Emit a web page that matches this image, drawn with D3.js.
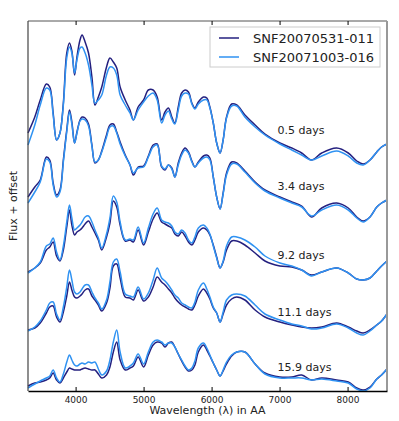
<!DOCTYPE html>
<html>
<head>
<meta charset="utf-8">
<script src="https://cdn.jsdelivr.net/npm/d3@7"></script>
<style>
  body { margin: 0; background: #fff; }
  text { font-family: "DejaVu Sans", sans-serif; fill: #222; }
</style>
</head>
<body>
<svg id="chart" width="399" height="421"></svg>
<script>
const width = 399;
const height = 421;
const margin = { top: 21, right: 12, bottom: 30, left: 28 };

// wavelength grid (Angstrom)
const wavelength = [3300, 3400, 3480, 3570, 3620, 3670, 3720, 3770, 3820, 3870,
    3910, 3945, 3985, 4020, 4065, 4095, 4140, 4190, 4240, 4285,
    4335, 4385, 4455, 4505, 4555, 4605, 4655, 4730, 4800, 4850,
    4920, 5000, 5070, 5140, 5200, 5265, 5315, 5365, 5415, 5460,
    5510, 5560, 5610, 5660, 5710, 5755, 5805, 5880, 5930, 5975,
    6025, 6075, 6125, 6170, 6220, 6295, 6370, 6490, 6640, 6785,
    7005, 7180, 7325, 7470, 7620, 7840, 8010, 8135, 8230, 8330,
    8430, 8500, 8580];

const names = ["SNF20070531-011", "SNF20071003-016"];
const epochs = ["0.5 days", "3.4 days", "9.2 days", "11.1 days", "15.9 days"];
const offsets = [22, 16, 10, 5, 0];
const labelFlux = [3.7, 4.1, 3.2, 2.5, 2.0];
const xTicks = [4000, 5000, 6000, 7000, 8000];

// SNF20070531-011
const snA_05 = [3.8, 5.4, 7.1, 8.7, 8.4, 5.8, 3.1, 3.8, 6.8, 11.8,
    12.8, 12.0, 9.6, 11.4, 13.1, 13.6, 12.9, 11.8, 9.4, 6.6,
    7.4, 8.4, 10.4, 11.3, 10.9, 10.3, 8.4, 7.1, 6.1, 5.1,
    6.4, 7.1, 8.1, 8.1, 7.4, 5.1, 5.9, 6.3, 5.4, 4.8,
    6.4, 7.8, 8.1, 7.9, 6.8, 6.3, 6.9, 7.4, 7.3, 6.4,
    4.8, 2.8, 1.8, 3.1, 5.4, 6.7, 6.6, 5.6, 4.6, 3.7,
    2.8, 2.3, 1.8, 1.1, 1.8, 2.3, 1.8, 1.0, 0.7, 1.1,
    1.9, 2.4, 2.7];
const snA_34 = [3.4, 4.4, 5.1, 7.4, 7.1, 4.8, 3.6, 4.1, 7.1, 10.1,
    12.1, 10.9, 8.8, 9.9, 11.1, 11.4, 11.3, 10.7, 8.6, 6.8,
    7.1, 8.0, 9.6, 10.6, 10.7, 9.9, 8.9, 7.6, 6.6, 5.6,
    6.4, 6.5, 7.5, 8.6, 8.7, 6.4, 6.1, 6.6, 6.3, 5.4,
    6.8, 7.8, 8.3, 7.9, 7.0, 6.4, 6.9, 7.5, 7.6, 7.3,
    5.4, 3.4, 2.2, 3.8, 5.8, 6.9, 6.8, 6.0, 4.9, 4.1,
    3.4, 2.9, 2.5, 1.4, 2.3, 2.8, 2.3, 1.4, 1.0, 1.4,
    2.4, 2.8, 3.1];
const snA_92 = [1.9, 2.3, 2.8, 4.1, 4.4, 4.9, 3.5, 3.0, 4.1, 6.4,
    8.1, 6.6, 5.6, 5.9, 6.1, 6.3, 6.7, 7.0, 6.4, 5.8,
    5.1, 4.1, 5.4, 6.8, 9.0, 8.4, 6.6, 5.0, 5.1, 4.9,
    6.1, 4.6, 5.9, 7.2, 7.8, 6.9, 6.7, 6.5, 6.3, 5.7,
    5.5, 5.9, 5.5, 4.9, 4.6, 5.1, 5.9, 6.3, 6.1, 5.6,
    4.6, 3.4, 2.3, 2.9, 4.1, 5.0, 5.0, 4.6, 3.8, 3.0,
    2.5, 2.4, 2.1, 1.6, 1.9, 2.3, 1.8, 1.2, 1.1, 1.3,
    2.0, 2.5, 3.0];
const snA_111 = [1.1, 1.3, 1.8, 2.8, 3.4, 3.5, 2.4, 1.9, 2.9, 4.5,
    5.9, 5.1, 4.4, 4.3, 4.5, 4.7, 5.1, 5.2, 4.5, 4.1,
    3.6, 3.0, 3.8, 5.3, 7.5, 7.7, 6.3, 4.4, 4.3, 4.1,
    5.1, 4.0, 4.4, 5.4, 6.4, 5.9, 5.6, 5.2, 4.8, 4.3,
    3.9, 3.6, 3.4, 3.2, 3.1, 3.6, 4.5, 5.2, 4.8, 4.2,
    3.3, 2.8, 1.9, 2.7, 3.6, 4.2, 4.4, 4.1, 3.1, 2.4,
    1.9, 1.6, 1.4, 1.3, 1.4, 1.8, 1.4, 1.0, 0.8, 1.1,
    1.6, 2.0, 2.7];
const snA_159 = [0.5, 0.8, 0.9, 1.1, 1.3, 1.8, 1.1, 0.8, 1.3, 1.9,
    2.3, 2.2, 2.1, 2.1, 2.1, 2.2, 2.3, 2.2, 2.1, 2.1,
    1.7, 1.3, 1.6, 2.4, 3.9, 4.9, 3.1, 2.1, 2.3, 2.5,
    3.4, 2.4, 3.6, 4.6, 4.9, 4.8, 4.4, 4.8, 4.9, 4.4,
    3.7, 3.0, 2.4, 2.0, 2.1, 2.6, 3.9, 4.6, 4.1, 3.5,
    2.8, 2.1, 1.5, 2.0, 2.7, 3.5, 3.9, 3.9, 2.7, 1.8,
    1.4, 1.4, 1.6, 1.1, 1.3, 1.1, 0.9, 0.3, 0.1, 0.4,
    1.2, 1.6, 2.2];

// SNF20071003-016
const snB_05 = [2.6, 4.6, 6.6, 8.3, 8.1, 5.6, 3.1, 3.8, 6.6, 11.3,
    12.4, 11.8, 9.8, 11.1, 12.3, 12.4, 11.8, 10.6, 8.6, 6.8,
    7.1, 7.6, 9.6, 10.4, 10.3, 9.6, 7.6, 6.6, 5.8, 5.1,
    6.1, 6.9, 7.5, 7.8, 7.1, 4.8, 5.6, 6.0, 5.2, 4.7,
    6.1, 7.5, 7.8, 7.7, 6.7, 6.2, 6.7, 7.1, 7.1, 6.3,
    4.8, 2.8, 1.8, 3.1, 5.3, 6.5, 6.5, 5.4, 4.4, 3.6,
    2.7, 2.1, 1.6, 1.1, 1.5, 2.0, 1.5, 0.8, 0.6, 1.1,
    1.9, 2.4, 2.7];
const snB_34 = [2.8, 3.9, 4.9, 7.2, 6.9, 4.6, 3.4, 3.9, 6.9, 9.9,
    11.9, 10.7, 8.8, 9.8, 11.0, 11.2, 11.1, 10.5, 8.5, 6.9,
    7.1, 7.9, 9.4, 10.4, 10.5, 9.8, 8.7, 7.5, 6.6, 5.8,
    6.3, 6.4, 7.4, 8.4, 8.6, 6.5, 6.2, 6.6, 6.2, 5.4,
    6.6, 7.6, 8.1, 7.8, 6.9, 6.4, 6.8, 7.3, 7.4, 7.1,
    5.4, 3.4, 2.2, 3.7, 5.6, 6.7, 6.7, 5.9, 4.8, 4.0,
    3.3, 2.8, 2.4, 1.5, 2.1, 2.6, 2.1, 1.3, 0.9, 1.4,
    2.4, 2.8, 3.1];
const snB_92 = [1.8, 2.3, 2.9, 4.5, 4.7, 5.3, 3.9, 3.1, 4.5, 6.9,
    8.6, 7.3, 6.1, 6.3, 6.6, 6.9, 7.4, 7.5, 6.9, 6.1,
    5.3, 4.3, 5.7, 7.3, 9.5, 8.9, 6.9, 5.1, 5.2, 5.1,
    6.4, 4.8, 6.3, 7.7, 8.3, 7.1, 6.9, 6.8, 6.5, 5.9,
    5.7, 6.1, 5.8, 5.1, 4.8, 5.4, 6.3, 6.6, 6.3, 5.7,
    4.5, 3.3, 2.3, 3.0, 4.5, 5.4, 5.4, 5.1, 4.4, 3.5,
    2.8, 2.5, 2.1, 1.5, 1.9, 2.3, 1.8, 1.2, 1.1, 1.3,
    2.0, 2.5, 3.0];
const snB_111 = [1.0, 1.4, 2.0, 3.1, 3.8, 3.9, 2.7, 2.1, 3.4, 5.4,
    7.1, 6.1, 4.9, 4.7, 4.9, 5.2, 5.6, 5.6, 4.9, 4.3,
    3.8, 3.2, 4.1, 5.9, 7.9, 8.2, 6.9, 4.7, 4.5, 4.4,
    5.4, 4.2, 4.8, 6.1, 7.3, 6.3, 6.0, 5.6, 5.1, 4.6,
    4.3, 3.8, 3.6, 3.4, 3.3, 3.9, 5.1, 5.8, 5.2, 4.4,
    3.4, 2.8, 1.9, 2.9, 4.1, 4.6, 4.7, 4.5, 3.6, 2.7,
    2.1, 1.7, 1.5, 1.2, 1.3, 1.7, 1.3, 0.8, 0.6, 1.0,
    1.6, 2.0, 2.7];
const snB_159 = [0.3, 0.7, 1.0, 1.3, 1.5, 2.1, 1.3, 0.9, 1.7, 2.9,
    3.6, 3.1, 2.6, 2.5, 2.7, 2.8, 2.7, 2.9, 2.8, 2.9,
    2.2, 1.6, 2.0, 3.1, 4.9, 6.1, 3.9, 2.3, 2.5, 2.8,
    3.7, 2.7, 3.9, 4.9, 5.1, 4.9, 4.6, 4.8, 4.8, 4.4,
    3.7, 3.1, 2.5, 2.1, 2.3, 3.0, 4.3, 4.8, 4.3, 3.6,
    2.8, 2.1, 1.5, 2.1, 2.9, 3.6, 3.9, 3.9, 2.7, 1.7,
    1.3, 1.3, 1.3, 1.1, 1.2, 1.0, 0.8, 0.2, 0.0, 0.3,
    1.2, 1.6, 2.2];

const seriesA = [snA_05, snA_34, snA_92, snA_111, snA_159];
const seriesB = [snB_05, snB_34, snB_92, snB_111, snB_159];
const colors = ["#24207f", "#2f92f2"];

seriesA.concat(seriesB).forEach((s, i) => {
    if (s.length !== wavelength.length) throw new Error("bad length in series " + i + ": " + s.length);
});

const svg = d3.select("#chart");

const x = d3.scaleLinear()
    .domain([3300, 8580])
    .range([margin.left, width - margin.right]);

const y = d3.scaleLinear()
    .domain([0, 37])
    .range([height - margin.bottom, margin.top]);

const line = d3.line()
    .x(d => x(d[0]))
    .y(d => y(d[1]))
    .curve(d3.curveCatmullRom.alpha(0.5));

const plot = svg.append("g");

// one dark + one light spectrum per epoch
epochs.forEach((ep, i) => {
    [seriesA[i], seriesB[i]].forEach((s, j) => {
        const pts = wavelength.map((w, k) => [w, s[k] + offsets[i]]);
        plot.append("path")
            .datum(pts)
            .attr("fill", "none")
            .attr("stroke", colors[j])
            .attr("stroke-width", 1.5)
            .attr("stroke-linejoin", "round")
            .attr("d", line);
    });

    svg.append("text")
        .attr("x", x(6970))
        .attr("y", y(labelFlux[i] + offsets[i]))
        .style("font-size", "11px")
        .text(ep);
});

// frame
const x0 = x.range()[0], x1 = x.range()[1];
const y0 = y.range()[0], y1 = y.range()[1];
svg.append("line").attr("x1", x0).attr("x2", x1).attr("y1", y1).attr("y2", y1)
    .attr("stroke", "#555").attr("stroke-width", 1);
svg.append("line").attr("x1", x1).attr("x2", x1).attr("y1", y1).attr("y2", y0)
    .attr("stroke", "#999").attr("stroke-width", 2);
svg.append("line").attr("x1", x0).attr("x2", x0).attr("y1", y1).attr("y2", y0)
    .attr("stroke", "#444").attr("stroke-width", 1.2);

const xAxis = svg.append("g")
    .attr("transform", `translate(0,${y0})`)
    .call(d3.axisBottom(x).tickValues(xTicks).tickFormat(d3.format("d"))
        .tickSizeInner(-4).tickSizeOuter(0).tickPadding(6));
xAxis.select(".domain").attr("stroke", "#000").attr("stroke-width", 1.6);
xAxis.selectAll("text").style("font-size", "9px").style("font-family", "DejaVu Sans").attr("fill", "#222");

const topAxis = svg.append("g")
    .attr("transform", `translate(0,${y1})`)
    .call(d3.axisTop(x).tickValues(xTicks).tickSizeInner(-4).tickSizeOuter(0).tickFormat(""));
topAxis.select(".domain").remove();

svg.append("text")
    .attr("x", (x0 + x1) / 2)
    .attr("y", 414)
    .attr("text-anchor", "middle")
    .style("font-size", "11px")
    .text("Wavelength (\u03bb) in AA");

svg.append("text")
    .attr("transform", `translate(17,${(y0 + y1) / 2}) rotate(-90)`)
    .attr("text-anchor", "middle")
    .style("font-size", "11px")
    .text("Flux + offset");

// legend
const legend = svg.append("g").attr("transform", "translate(210,27)");
legend.append("rect")
    .attr("width", 170).attr("height", 40)
    .attr("fill", "#fff").attr("stroke", "#ccc");
names.forEach((n, i) => {
    const row = legend.append("g").attr("transform", `translate(0,${11 + i * 19})`);
    row.append("line").attr("x1", 9).attr("x2", 29)
        .attr("stroke", colors[i]).attr("stroke-width", 1.5);
    row.append("text").attr("x", 43).attr("dy", "0.35em")
        .style("font-size", "13px").text(n);
});
</script>
</body>
</html>
